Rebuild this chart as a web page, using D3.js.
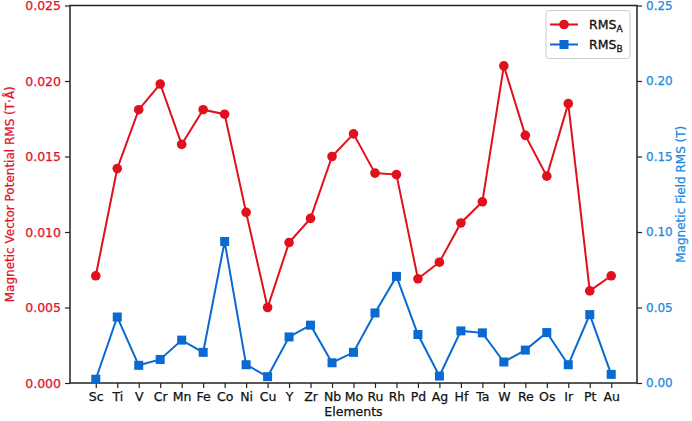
<!DOCTYPE html>
<html>
<head>
<meta charset="utf-8">
<script src="https://cdn.jsdelivr.net/npm/d3@7"></script>
<style>
  body { margin: 0; background: #fff; }
  text { font-family: "DejaVu Sans", sans-serif; }
</style>
</head>
<body>
<div id="chart"></div>
<script>
// elements on the x axis
const elements = ["Sc","Ti","V","Cr","Mn","Fe","Co","Ni","Cu","Y","Zr","Nb","Mo","Ru","Rh","Pd","Ag","Hf","Ta","W","Re","Os","Ir","Pt","Au"];
// magnetic vector potential RMS (T·Å), left axis
const rmsA = [0.0071,0.0142,0.0181,0.0198,0.0158,0.0181,0.0178,0.0113,0.0050,0.0093,0.0109,0.0150,0.0165,0.0139,0.0138,0.0069,0.0080,0.0106,0.0120,0.0210,0.0164,0.0137,0.0185,0.0061,0.0071];
// magnetic field RMS (T), right axis
const rmsB = [0.0025,0.0437,0.0117,0.0156,0.0284,0.0203,0.0937,0.0121,0.0042,0.0305,0.0383,0.0134,0.0203,0.0464,0.0706,0.0321,0.0046,0.0345,0.0332,0.0139,0.0218,0.0334,0.0121,0.0453,0.0057];
const leftTicks = [0, 0.005, 0.010, 0.015, 0.020, 0.025];
const rightTicks = [0, 0.05, 0.10, 0.15, 0.20, 0.25];

const red = "#e0101c", blue = "#0a6ad2";
const redText = "#e2122a", blueText = "#1a8ae0";
const fs = "12.5px";

const W = 692, H = 421;
const margin = {top: 5.5, right: 55, bottom: 38, left: 70};
const width = W - margin.left - margin.right,
      height = H - margin.top - margin.bottom;

const svg = d3.select("#chart").append("svg")
    .attr("width", W).attr("height", H);
const g = svg.append("g")
    .attr("transform", "translate(" + margin.left + "," + margin.top + ")");

// matplotlib style 5% margins on the index axis
const n = elements.length;
const x = d3.scaleLinear()
    .domain([-0.05 * (n - 1), (n - 1) * 1.05])
    .range([0, width]);
const yA = d3.scaleLinear().domain([0, 0.025]).range([height, 0]);
const yB = d3.scaleLinear().domain([0, 0.25]).range([height, 0]);

// axes
const xAxis = g.append("g")
    .attr("transform", "translate(0," + height + ")")
    .call(d3.axisBottom(x).tickValues(d3.range(n)).tickFormat(i => elements[i]).tickSize(5).tickPadding(4));
xAxis.selectAll("text").attr("fill", "#111").attr("stroke", "#111").style("font-size", fs);

const leftAxis = g.append("g")
    .call(d3.axisLeft(yA).tickValues(leftTicks).tickFormat(d3.format(".3f")).tickSize(5).tickPadding(4));
leftAxis.selectAll("text").attr("fill", redText).attr("stroke", redText).style("font-size", fs);

const rightAxis = g.append("g")
    .attr("transform", "translate(" + width + ",0)")
    .call(d3.axisRight(yB).tickValues(rightTicks).tickFormat(d3.format(".2f")).tickSize(5).tickPadding(4));
rightAxis.selectAll("text").attr("fill", blueText).attr("stroke", blueText).style("font-size", "12px");

[xAxis, leftAxis, rightAxis].forEach(a => {
  a.select(".domain").remove();
  a.selectAll("line").attr("stroke", "#222").attr("stroke-width", 1.2);
  a.selectAll("text").attr("stroke-width", 0.25);
});

// frame
g.append("rect")
    .attr("width", width).attr("height", height)
    .attr("fill", "none").attr("stroke", "#222").attr("stroke-width", 1.5);

// axis labels
g.append("text")
    .attr("x", width / 2).attr("y", height + 33)
    .attr("text-anchor", "middle").style("font-size", fs)
    .attr("fill", "#111").attr("stroke", "#111").attr("stroke-width", 0.25)
    .text("Elements");
g.append("text")
    .attr("transform", "translate(" + (-56) + "," + (height / 2) + ") rotate(-90)")
    .attr("text-anchor", "middle").style("font-size", "12px")
    .attr("fill", redText).attr("stroke", redText).attr("stroke-width", 0.25)
    .text("Magnetic Vector Potential RMS (T·Å)");
g.append("text")
    .attr("transform", "translate(" + (width + 48) + "," + (height / 2) + ") rotate(-90)")
    .attr("text-anchor", "middle").style("font-size", "12px")
    .attr("fill", blueText).attr("stroke", blueText).attr("stroke-width", 0.25)
    .text("Magnetic Field RMS (T)");

// series A
g.append("path")
    .datum(rmsA)
    .attr("fill", "none").attr("stroke", red).attr("stroke-width", 2)
    .attr("d", d3.line().x((d, i) => x(i)).y(d => yA(d)));
g.selectAll(".ptA").data(rmsA).enter().append("circle")
    .attr("cx", (d, i) => x(i)).attr("cy", d => yA(d))
    .attr("r", 4.8).attr("fill", red);

// series B
g.append("path")
    .datum(rmsB)
    .attr("fill", "none").attr("stroke", blue).attr("stroke-width", 2)
    .attr("d", d3.line().x((d, i) => x(i)).y(d => yB(d)));
g.selectAll(".ptB").data(rmsB).enter().append("rect")
    .attr("x", (d, i) => x(i) - 4.5).attr("y", d => yB(d) - 4.5)
    .attr("width", 9).attr("height", 9).attr("fill", blue);

// legend
const lg = g.append("g").attr("transform", "translate(" + (width - 91) + ",5)");
lg.append("rect")
    .attr("width", 84).attr("height", 48).attr("rx", 3)
    .attr("fill", "#fff").attr("stroke", "#ccc").attr("stroke-width", 1);
const items = [{name: "A", color: red, shape: "circle"}, {name: "B", color: blue, shape: "square"}];
items.forEach((it, i) => {
  const yy = 14 + i * 20;
  lg.append("line").attr("x1", 4).attr("x2", 32).attr("y1", yy).attr("y2", yy)
      .attr("stroke", it.color).attr("stroke-width", 2);
  if (it.shape === "circle") {
    lg.append("circle").attr("cx", 18).attr("cy", yy).attr("r", 4.8).attr("fill", it.color);
  } else {
    lg.append("rect").attr("x", 13.5).attr("y", yy - 4.5).attr("width", 9).attr("height", 9).attr("fill", it.color);
  }
  const t = lg.append("text").attr("x", 43).attr("y", yy + 4)
      .style("font-size", fs).attr("fill", "#111").attr("stroke", "#111").attr("stroke-width", 0.3);
  t.append("tspan").text("RMS");
  t.append("tspan").attr("dy", 3).style("font-size", "9px").text(it.name);
});
</script>
</body>
</html>
